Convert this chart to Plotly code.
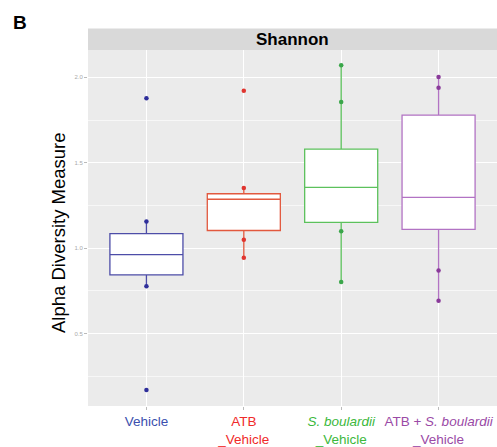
import plotly.graph_objects as go

categories = ["Vehicle", "ATB_Vehicle", "Sb_Vehicle", "ATB_Sb_Vehicle"]
tick_labels = [
    "Vehicle",
    "ATB<br>_Vehicle",
    "<i>S. boulardii</i><br>_Vehicle",
    "ATB + <i>S. boulardii</i><br>_Vehicle",
]
q1 = [0.843, 1.103, 1.151, 1.109]
median = [0.962, 1.286, 1.356, 1.297]
q3 = [1.084, 1.318, 1.580, 1.778]
lower_whisker = [0.776, 0.943, 0.801, 0.691]
upper_whisker = [1.155, 1.352, 2.071, 2.002]
points = [
    [1.877, 1.155, 0.776, 0.168],
    [1.921, 1.352, 1.048, 0.943],
    [2.071, 1.855, 1.099, 0.801],
    [2.002, 1.939, 0.868, 0.691],
]
box_colors = ["#4d4da8", "#e2583e", "#5cc15c", "#b273c4"]
point_colors = ["#2e2e9a", "#e0352f", "#3aa64a", "#8a3a9a"]
text_colors = ["#3b4fae", "#f02a2a", "#3cb83c", "#9a4aa6"]

fig = go.Figure()
for i, cat in enumerate(categories):
    fig.add_trace(go.Box(
        x=[cat], q1=[q1[i]], median=[median[i]], q3=[q3[i]],
        lowerfence=[lower_whisker[i]], upperfence=[upper_whisker[i]],
        fillcolor="white", line=dict(color=box_colors[i], width=1.3),
        whiskerwidth=0, width=0.75, boxpoints=False, showlegend=False,
    ))
    fig.add_trace(go.Scatter(
        x=[cat] * len(points[i]), y=points[i], mode="markers",
        marker=dict(color=point_colors[i], size=4.5), showlegend=False,
    ))

ticktext = [f"<span style='color:{c}'>{t}</span>" for t, c in zip(tick_labels, text_colors)]

fig.update_layout(
    width=497, height=447,
    margin=dict(l=88, r=0, t=50, b=34),
    paper_bgcolor="white", plot_bgcolor="#ebebeb",
    font=dict(family="Liberation Sans, Arial, sans-serif"),
    xaxis=dict(
        type="category", categoryorder="array", categoryarray=categories,
        range=[-0.6, 3.6], tickvals=categories, ticktext=ticktext,
        tickfont=dict(size=13.5), showgrid=True, gridcolor="white", gridwidth=1,
        ticks="outside", ticklen=3, tickcolor="#bbbbbb", zeroline=False,
    ),
    yaxis=dict(
        range=[0.075, 2.16], tickvals=[0.5, 1.0, 1.5, 2.0],
        ticktext=["0.5", "1.0", "1.5", "2.0"],
        tickfont=dict(size=6, color="#aaaaaa"),
        ticks="outside", ticklen=3, tickcolor="#bbbbbb",
        showgrid=True, gridcolor="white", gridwidth=1.2, zeroline=False,
        minor=dict(tick0=0.25, dtick=0.5, showgrid=True, gridcolor="#f7f7f7", gridwidth=0.6),
    ),
)

fig.add_shape(type="rect", xref="paper", yref="paper", x0=0, x1=1,
              y0=1.0, y1=1.0606, fillcolor="#d9d9d9", line=dict(width=0), layer="below")
fig.add_annotation(xref="paper", yref="paper", x=0.5, y=1.030, text="<b>Shannon</b>",
                   showarrow=False, font=dict(size=17, color="black"), xanchor="center", yanchor="middle")
fig.add_annotation(xref="paper", yref="paper", x=-0.0709, y=0.486, text="Alpha Diversity Measure",
                   textangle=-90, showarrow=False, font=dict(size=18.5, color="black"),
                   xanchor="center", yanchor="middle")
fig.add_annotation(xref="paper", yref="paper", x=-0.166, y=1.077, text="<b>B</b>",
                   showarrow=False, font=dict(size=19, color="black"), xanchor="center", yanchor="middle")

fig.write_html("out.html", config={"displayModeBar": False},
               post_script="document.body.style.margin='0';document.body.style.overflow='hidden';")
